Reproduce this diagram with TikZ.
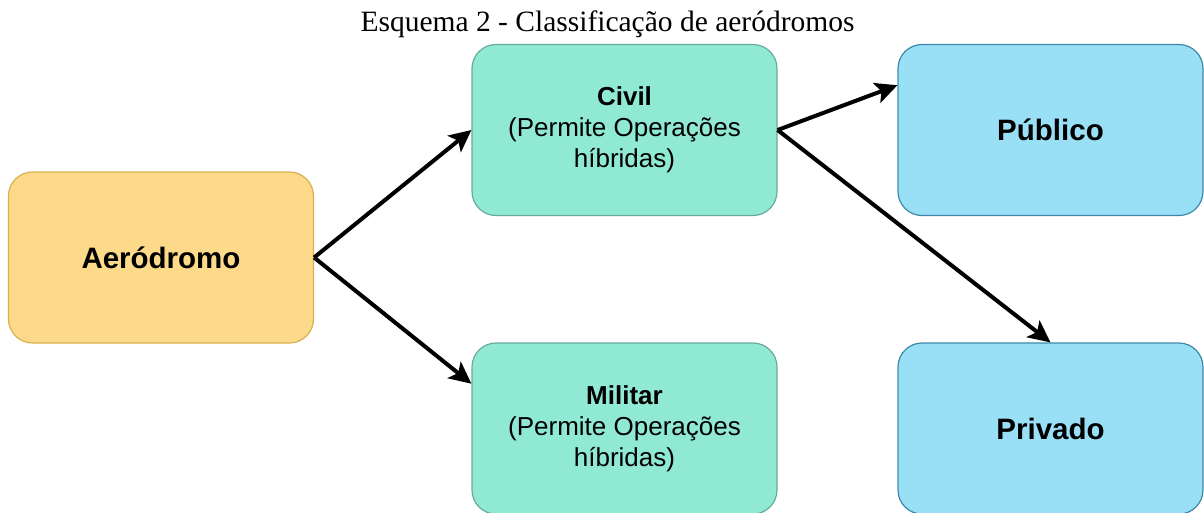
\documentclass[tikz,border=0pt]{standalone}
\usepackage{fontspec}
\setmainfont{Liberation Serif}
\setsansfont{Liberation Sans}
\usetikzlibrary{arrows.meta,calc}

\definecolor{aerfill}{RGB}{253,218,138}
\definecolor{aerdraw}{RGB}{214,178,80}
\definecolor{mintfill}{RGB}{144,234,211}
\definecolor{mintdraw}{RGB}{103,171,159}
\definecolor{bluefill}{RGB}{153,224,247}
\definecolor{bluedraw}{RGB}{62,137,168}

\tikzset{every picture/.style={line width=0.75pt}}
\tikzset{
  box/.style={rounded corners=24pt, minimum width=305pt, minimum height=171pt,
    inner sep=0pt, align=center, line width=1.2pt,
    font=\sffamily\fontsize{26}{31}\selectfont},
  yellowbox/.style={box, fill=aerfill, draw=aerdraw},
  mintbox/.style={box, fill=mintfill, draw=mintdraw},
  bluebox/.style={box, fill=bluefill, draw=bluedraw},
  bigbold/.style={font=\sffamily\bfseries\fontsize{29.5}{34}\selectfont},
  conn/.style={line width=4pt, -{Stealth[length=22pt,width=21pt,inset=5pt]}}
}

\begin{document}
\begin{tikzpicture}[x=1pt,y=1pt,yscale=-1,xscale=1]
\useasboundingbox (0,0) rectangle (1204,512);

% Title
\node (title) at (607.5,24) {\fontsize{29.5}{32}\selectfont Esquema 2 - Classificação de aeródromos};

% Boxes
\node [yellowbox, bigbold] (aer) at (161,257.5) {Aeródromo};
\node [mintbox] (civil) at (624.5,130) {\textbf{Civil}\\(Permite Operações\\híbridas)};
\node [mintbox] (militar) at (624.5,428.5) {\textbf{Militar}\\(Permite Operações\\híbridas)};
\node [bluebox, bigbold] (publico) at (1050.5,130) {Público};
\node [bluebox, bigbold] (privado) at (1050.5,428.5) {Privado};

% Connectors
\coordinate (milin) at ($(militar.north west)!0.24!(militar.south west)$);
\coordinate (pubin) at ($(publico.north west)!0.24!(publico.south west)$);
\draw [conn] (aer.east) -- (civil.west);
\draw [conn] (aer.east) -- (milin);
\draw [conn] (civil.east) -- (pubin);
\draw [conn] (civil.east) -- (privado.north);

\end{tikzpicture}
\end{document}
